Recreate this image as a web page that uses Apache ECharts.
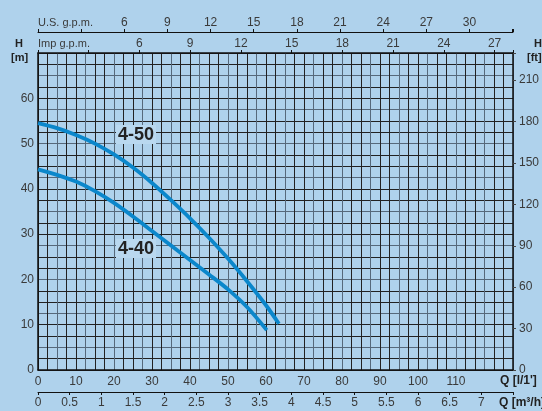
<!DOCTYPE html>
<html>
<head>
<meta charset="utf-8">
<script src="https://cdn.jsdelivr.net/npm/echarts@6/dist/echarts.min.js"></script>
<style>
html,body{margin:0;padding:0;background:#afd2ec;}
#c{width:542px;height:411px;}
</style>
</head>
<body>
<div id="c"></div>
<script>
// Flow Q [l/min] and head H [m] for pump curves
const q450 = [0, 5, 10, 15, 20, 25, 30, 35, 40, 45, 50, 55, 60, 63.4];
const h450 = [54.5, 53.4, 51.9, 50.0, 47.6, 44.7, 41.3, 37.5, 33.5, 29.2, 24.6, 19.6, 14.3, 10.2];
const q440 = [0, 5, 10, 15, 20, 25, 30, 35, 40, 45, 50, 55, 60.2];
const h440 = [44.3, 43.1, 41.6, 39.5, 36.9, 33.9, 30.7, 27.5, 24.3, 21.1, 17.8, 13.9, 8.8];
const seriesNames = ['4-50', '4-40'];

// axis ranges / tick steps
const qMax = 125;            // l/min
const hMax = 70;             // m
const m3hPerLmin = 1 / 16.667;
const usPerLmin = 1 / 3.785;
const impPerLmin = 1 / 4.45;
const ftPerM = 3.2808;

const FONT = "'Liberation Sans Narrow','Liberation Sans',sans-serif";
const TXT = '#3a3a3a';
const BLACK = '#111';
const gridColors = ['#222', '#222', '#56697b'];

const chart = echarts.init(document.getElementById('c'));
const lbl = (fmt, margin) => ({ show: true, color: TXT, fontSize: 12, fontFamily: FONT, margin: margin, formatter: fmt });
const near = (v, step) => Math.abs(v / step - Math.round(v / step)) < 1e-6;

chart.setOption({
  backgroundColor: '#afd2ec',
  animation: false,
  grid: { left: 38, right: 21, top: 53, bottom: 41, containLabel: false },
  xAxis: [
    {
      type: 'value', position: 'bottom', min: 0, max: qMax, interval: 2.5,
      axisLine: { show: true, onZero: false, lineStyle: { color: BLACK, width: 1.5 } },
      axisTick: { show: false },
      axisLabel: lbl(v => (near(v, 10) && v <= 110) ? String(v) : '', 6),
      splitLine: { show: true, lineStyle: { color: gridColors, width: 1 } }
    },
    {
      type: 'value', position: 'bottom', offset: 22, min: 0, max: qMax * m3hPerLmin, interval: 0.5,
      axisLine: { show: true, onZero: false, lineStyle: { color: BLACK, width: 1 } },
      axisTick: { show: true, length: 3, lineStyle: { color: BLACK } },
      axisLabel: lbl(v => (v <= 7.01 && near(v, 0.5)) ? String(v) : '', 5),
      splitLine: { show: false }
    },
    {
      type: 'value', position: 'top', min: 0, max: qMax * impPerLmin, interval: 3,
      axisLine: { show: true, onZero: false, lineStyle: { color: BLACK, width: 1.5 } },
      axisTick: { show: true, length: 3, lineStyle: { color: BLACK } },
      axisLabel: lbl(v => (v >= 6 && v <= 27.01 && near(v, 3)) ? String(v) : '', 3),
      splitLine: { show: false }
    },
    {
      type: 'value', position: 'top', offset: 21, min: 0, max: qMax * usPerLmin, interval: 3,
      axisLine: { show: true, onZero: false, lineStyle: { color: BLACK, width: 1 } },
      axisTick: { show: true, length: 3, lineStyle: { color: BLACK } },
      axisLabel: lbl(v => (v >= 6 && v <= 30.01 && near(v, 3)) ? String(v) : '', 3),
      splitLine: { show: false }
    }
  ],
  yAxis: [
    {
      type: 'value', position: 'left', min: 0, max: hMax, interval: 2.5,
      axisLine: { show: true, onZero: false, lineStyle: { color: BLACK, width: 1.5 } },
      axisTick: { show: false },
      axisLabel: lbl(v => (near(v, 10) && v <= 60) ? String(v) : '', 4),
      splitLine: { show: true, lineStyle: { color: gridColors, width: 1 } }
    },
    {
      type: 'value', position: 'right', min: 0, max: hMax * ftPerM, interval: 30,
      axisLine: { show: true, onZero: false, lineStyle: { color: BLACK, width: 1.5 } },
      axisTick: { show: true, length: 3, lineStyle: { color: '#444' } },
      axisLabel: lbl(v => (near(v, 30) && v <= 210) ? String(v) : '', 6),
      splitLine: { show: false }
    }
  ],
  series: [
    {
      name: seriesNames[0], type: 'line', xAxisIndex: 0, yAxisIndex: 0,
      data: q450.map((q, i) => [q, h450[i]]),
      smooth: 0.3, symbol: 'none',
      lineStyle: { color: '#0b87cb', width: 3.8, cap: 'butt' }
    },
    {
      name: seriesNames[1], type: 'line', xAxisIndex: 0, yAxisIndex: 0,
      data: q440.map((q, i) => [q, h440[i]]),
      smooth: 0.3, symbol: 'none',
      lineStyle: { color: '#0b87cb', width: 3.8, cap: 'butt' }
    }
  ],
  graphic: [
    { type: 'text', left: 38, top: 17, style: { text: 'U.S. g.p.m.', fill: TXT, font: "11px " + FONT } },
    { type: 'text', left: 38, top: 38, style: { text: 'Imp g.p.m.', fill: TXT, font: "11px " + FONT } },
    { type: 'text', left: 15, top: 38, style: { text: 'H', fill: '#222', font: "bold 11px " + FONT } },
    { type: 'text', left: 11, top: 52, style: { text: '[m]', fill: '#222', font: "bold 11px " + FONT } },
    { type: 'text', left: 534, top: 38, style: { text: 'H', fill: '#222', font: "bold 11px " + FONT } },
    { type: 'text', left: 527, top: 52, style: { text: '[ft]', fill: '#222', font: "bold 11px " + FONT } },
    { type: 'text', left: 500, top: 375, style: { text: "Q [l/1']", fill: '#222', font: "bold 12px " + FONT } },
    { type: 'text', left: 499, top: 397, style: { text: 'Q [m³/h]', fill: '#222', font: "bold 12px " + FONT } },
    { type: 'text', left: 116, top: 125, z: 10, style: { text: seriesNames[0], fill: '#222', font: "bold 18px " + FONT, backgroundColor: '#b9d8ef', padding: [1, 2, 0, 2] } },
    { type: 'text', left: 116, top: 239, z: 10, style: { text: seriesNames[1], fill: '#222', font: "bold 18px " + FONT, backgroundColor: '#b9d8ef', padding: [1, 2, 0, 2] } }
  ]
});
</script>
</body>
</html>
